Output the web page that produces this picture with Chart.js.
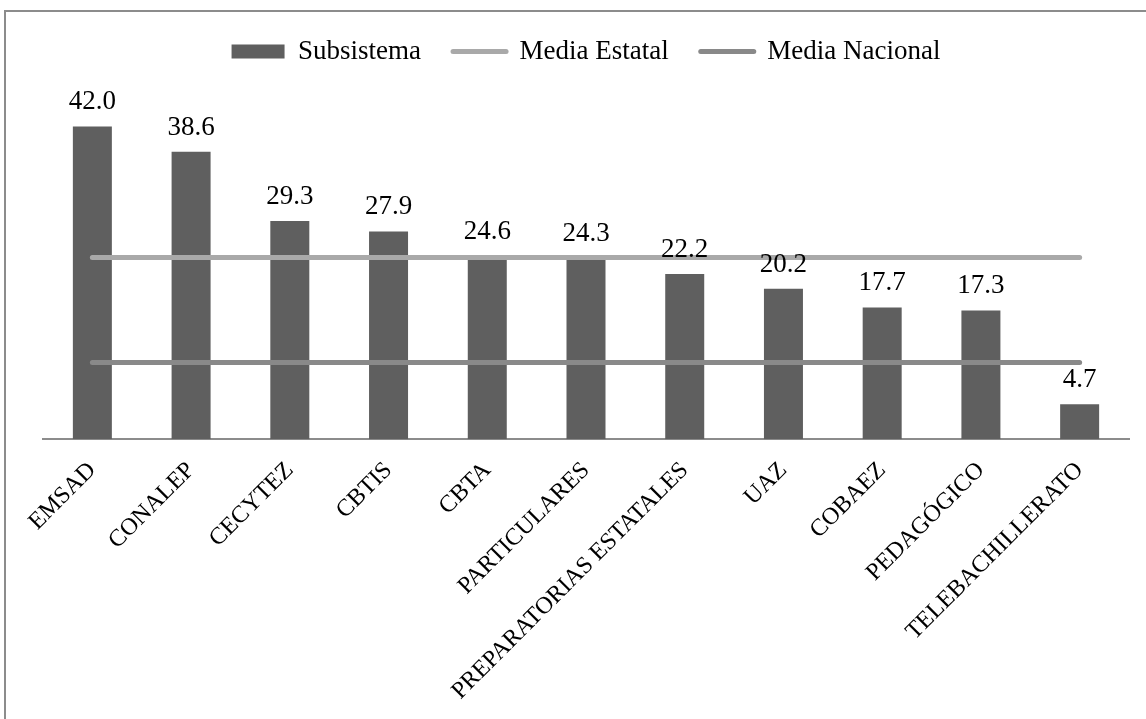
<!DOCTYPE html>
<html>
<head>
<meta charset="utf-8">
<script src="https://cdn.jsdelivr.net/npm/chart.js@4.4.1/dist/chart.umd.min.js"></script>
<style>
  html, body { margin: 0; padding: 0; background: #ffffff; overflow: hidden; }
  #wrap { position: relative; width: 1146px; height: 719px; }
  #frame {
    position: absolute; left: 4px; top: 10px; width: 1300px; height: 900px;
    border-left: 2px solid #8c8c8c; border-top: 2px solid #8c8c8c;
  }
  canvas { position: absolute; left: 0; top: 0; }
</style>
</head>
<body>
<div id="wrap">
  <div id="frame"></div>
  <canvas id="chart" width="1146" height="719"></canvas>
</div>
<script>
const categories = [
  "EMSAD", "CONALEP", "CECYTEZ", "CBTIS", "CBTA", "PARTICULARES",
  "PREPARATORIAS ESTATALES", "UAZ", "COBAEZ", "PEDAGÓGICO", "TELEBACHILLERATO"
];
const subsistema = [42.0, 38.6, 29.3, 27.9, 24.6, 24.3, 22.2, 20.2, 17.7, 17.3, 4.7];
const mediaEstatal = [24.4, 24.4, 24.4, 24.4, 24.4, 24.4, 24.4, 24.4, 24.4, 24.4, 24.4];
const mediaNacional = [10.3, 10.3, 10.3, 10.3, 10.3, 10.3, 10.3, 10.3, 10.3, 10.3, 10.3];

const FONT = "'Liberation Serif', 'Times New Roman', serif";

// value labels above the bars
const valueLabels = {
  id: "valueLabels",
  afterDatasetsDraw(chart) {
    const ctx = chart.ctx;
    const meta = chart.getDatasetMeta(0);
    ctx.save();
    ctx.font = "27px " + FONT;
    ctx.fillStyle = "#000000";
    ctx.textAlign = "center";
    ctx.textBaseline = "alphabetic";
    meta.data.forEach(function (bar, i) {
      ctx.fillText(subsistema[i].toFixed(1), bar.x, bar.y - 17);
    });
    ctx.restore();
  },
};

new Chart(document.getElementById("chart").getContext("2d"), {
  type: "bar",
  data: {
    labels: categories,
    datasets: [
      {
        label: "Subsistema",
        data: subsistema,
        backgroundColor: "#5f5f5f",
        borderWidth: 0,
        categoryPercentage: 1,
        barPercentage: 0.395,
        order: 1,
      },
      {
        type: "line",
        label: "Media Estatal",
        data: mediaEstatal,
        borderColor: "#a9a9a9",
        backgroundColor: "#a9a9a9",
        borderWidth: 5,
        borderCapStyle: "round",
        pointRadius: 0,
        pointHoverRadius: 0,
        order: 0,
      },
      {
        type: "line",
        label: "Media Nacional",
        data: mediaNacional,
        borderColor: "#898989",
        backgroundColor: "#898989",
        borderWidth: 5,
        borderCapStyle: "round",
        pointRadius: 0,
        pointHoverRadius: 0,
        order: 0,
      },
    ],
  },
  options: {
    responsive: false,
    animation: false,
    layout: {
      padding: { left: 43, right: 17, top: 6, bottom: 4.5 },
    },
    plugins: {
      tooltip: { enabled: false },
      legend: {
        position: "top",
        align: "center",
        labels: {
          color: "#000000",
          font: { family: FONT, size: 27 },
          usePointStyle: true,
          pointStyleWidth: 53,
          boxHeight: 14,
          padding: 32,
          sort: (a, b) => a.datasetIndex - b.datasetIndex,
          generateLabels: function (chart) {
            const items = Chart.defaults.plugins.legend.labels.generateLabels(chart);
            items.forEach(function (item) {
              if (item.datasetIndex === 0) {
                item.pointStyle = "rect";
                item.lineWidth = 0;
              } else {
                item.pointStyle = "line";
                item.lineWidth = 5;
                item.lineCap = "round";
              }
            });
            return items;
          },
        },
      },
    },
    scales: {
      x: {
        offset: true,
        grid: { display: false },
        border: { display: true, color: "#8c8c8c", width: 2 },
        ticks: {
          autoSkip: false,
          maxRotation: 45,
          minRotation: 45,
          padding: 9,
          color: "#000000",
          font: { family: FONT, size: 24 },
        },
      },
      y: {
        display: false,
        min: 0,
        max: 48.9,
      },
    },
  },
  plugins: [valueLabels],
});
</script>
</body>
</html>
